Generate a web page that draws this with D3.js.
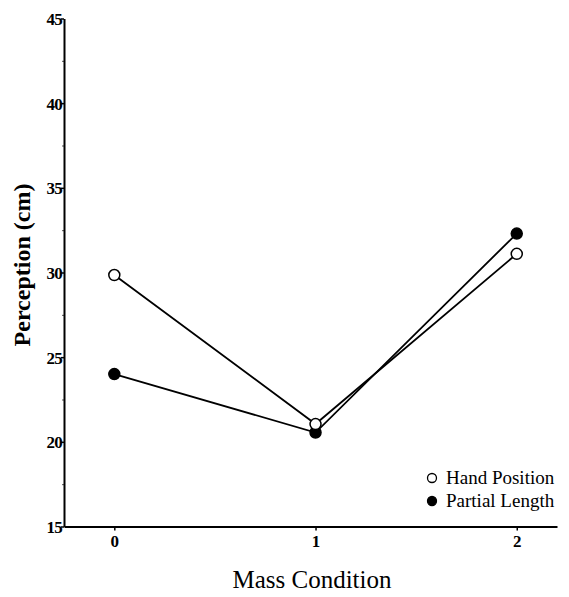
<!DOCTYPE html>
<html>
<head>
  <script src="https://d3js.org/d3.v7.min.js"></script>
  <style>
    body { margin: 0; background: #fff; }
    svg text { font-family: "Liberation Serif", "DejaVu Serif", serif; fill: #000; }
  </style>
</head>
<body>
<div id="chart"></div>
<script>
  // data
  const conditions = [0, 1, 2];
  const handPosition = [29.85, 21.05, 31.1];
  const partialLength = [24.0, 20.55, 32.3];
  const yTicks = [15, 20, 25, 30, 35, 40, 45];
  const yMinorTicks = [17.5, 22.5, 27.5, 32.5, 37.5, 42.5];
  const seriesNames = ["Hand Position", "Partial Length"];

  const width = 569, height = 597;
  const svg = d3.select("#chart").append("svg")
    .attr("width", width)
    .attr("height", height);

  const x = d3.scaleLinear().domain([-0.25, 2.2]).range([64, 557]);
  const y = d3.scaleLinear().domain([15, 45]).range([526.5, 18.5]);

  // faint minor ticks on the y axis
  svg.append("g")
    .attr("transform", "translate(64,0)")
    .call(d3.axisLeft(y).tickValues(yMinorTicks).tickSize(2).tickFormat(""))
    .call(g => g.select(".domain").remove())
    .selectAll(".tick line").attr("stroke", "#555");

  // y axis
  const yAxis = svg.append("g")
    .attr("transform", "translate(64,0)")
    .call(d3.axisLeft(y).tickValues(yTicks).tickSize(3).tickSizeOuter(0));
  yAxis.select(".domain").attr("stroke-width", 2);
  yAxis.selectAll(".tick line").attr("stroke-width", 1.5);
  yAxis.selectAll(".tick text")
    .attr("font-size", 17).attr("font-weight", "bold")
    .attr("x", -2).attr("dy", "0.35em")
    .style("letter-spacing", "-0.8px");

  // x axis
  const xAxis = svg.append("g")
    .attr("transform", "translate(0,526.5)")
    .call(d3.axisBottom(x).tickValues(conditions).tickFormat(d3.format("d")).tickSize(4).tickSizeOuter(0));
  xAxis.select(".domain").attr("stroke-width", 2);
  xAxis.selectAll(".tick line").attr("stroke-width", 1.5);
  xAxis.selectAll(".tick text")
    .attr("font-size", 17).attr("font-weight", "bold")
    .attr("y", 8);

  // axis titles
  svg.append("text")
    .attr("x", 312).attr("y", 588)
    .attr("text-anchor", "middle")
    .attr("font-size", 25)
    .text("Mass Condition");

  svg.append("text")
    .attr("transform", "translate(30,265) rotate(-90)")
    .attr("text-anchor", "middle")
    .attr("font-size", 24)
    .attr("font-weight", "bold")
    .text("Perception (cm)");

  const line = d3.line()
    .x((d, i) => x(conditions[i]))
    .y(d => y(d));

  const series = [
    { name: seriesNames[0], values: handPosition, fill: "#fff" },
    { name: seriesNames[1], values: partialLength, fill: "#000" }
  ];

  series.forEach(s => {
    svg.append("path")
      .datum(s.values)
      .attr("fill", "none")
      .attr("stroke", "#000")
      .attr("stroke-width", 1.8)
      .attr("d", line);
  });

  // filled markers first so the open ones sit on top where they overlap
  [series[1], series[0]].forEach(s => {
    svg.append("g")
      .selectAll("circle")
      .data(s.values)
      .join("circle")
      .attr("cx", (d, i) => x(conditions[i]))
      .attr("cy", d => y(d))
      .attr("r", 5.5)
      .attr("fill", s.fill)
      .attr("stroke", "#000")
      .attr("stroke-width", 1.5);
  });

  // legend
  const legend = svg.append("g").attr("transform", "translate(432,478)");
  series.forEach((s, i) => {
    const row = legend.append("g").attr("transform", `translate(0,${i * 23})`);
    row.append("circle")
      .attr("r", 4.5)
      .attr("fill", s.fill)
      .attr("stroke", "#000")
      .attr("stroke-width", 1.3);
    row.append("text")
      .attr("x", 14).attr("dy", "0.33em")
      .attr("font-size", 19)
      .text(s.name);
  });
</script>
</body>
</html>
